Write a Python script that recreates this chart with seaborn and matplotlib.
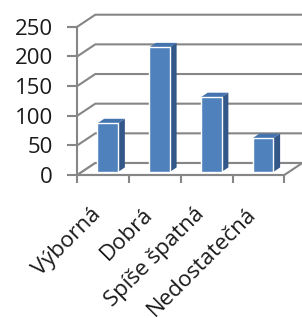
import matplotlib
matplotlib.use('Agg')
import matplotlib.pyplot as plt
import pandas as pd
import seaborn as sns
from matplotlib.lines import Line2D
from matplotlib.patches import Polygon
from matplotlib.transforms import IdentityTransform, ScaledTranslation

# data
categories = ['Výborná', 'Dobrá', 'Spíše špatná', 'Nedostatečná']
counts = [82, 210, 126, 57]
y_ticks = [0, 50, 100, 150, 200, 250]

df = pd.DataFrame({'hodnoceni': categories, 'pocet': counts})

sns.set_style('white')
plt.rcParams['font.family'] = ['Open Sans', 'DejaVu Sans']

W, H = 302, 318
fig = plt.figure(figsize=(W / 100, H / 100), dpi=100)
ax = fig.add_axes([77.3 / W, 1 - 175 / H, 207 / W, 148.3 / H])
ax.patch.set_visible(False)

grid_c = '#868686'
front_c, top_c, side_c = '#4F81BD', '#4473AE', '#34578A'
DX, DY = 18, 12          # depth of the 3d box, pixels
d_front, d_back = 0.25, 0.63   # where the bars sit inside the box

sns.barplot(data=df, x='hodnoceni', y='pocet', color=front_c, saturation=1,
            width=0.4, ax=ax, zorder=4)
ax.set_xlim(-0.5, 3.5)
ax.set_ylim(0, 250)
bars = list(ax.patches)


def px(x, y, d):
    X, Y = ax.transData.transform((x, y))
    return (X + d * DX, Y + d * DY)


# back wall + left wall gridlines
for v in y_ticks:
    pts = [px(-0.5, v, 0), px(-0.5, v, 1), px(3.5, v, 1)]
    ax.add_line(Line2D([p[0] for p in pts], [p[1] for p in pts], color=grid_c,
                       lw=1.5, transform=IdentityTransform(), clip_on=False, zorder=1))

# floor
floor = [px(-0.5, 0, 0), px(3.5, 0, 0), px(3.5, 0, 1), px(-0.5, 0, 1)]
ax.add_patch(Polygon(floor, closed=True, fc='white', ec=grid_c, lw=1.5,
                     transform=IdentityTransform(), clip_on=False, zorder=2))

# push the bars back into the box and add side + top faces
shift = ScaledTranslation(d_front * DX / 100, d_front * DY / 100, fig.dpi_scale_trans)
for p in bars:
    x0 = p.get_x()
    x1 = x0 + p.get_width()
    h = p.get_height()
    p.set_transform(ax.transData + shift)
    p.set_clip_on(False)
    side = [px(x1, 0, d_front), px(x1, 0, d_back), px(x1, h, d_back), px(x1, h, d_front)]
    top = [px(x0, h, d_front), px(x1, h, d_front), px(x1, h, d_back), px(x0, h, d_back)]
    ax.add_patch(Polygon(side, closed=True, fc=side_c, ec='none',
                         transform=IdentityTransform(), clip_on=False, zorder=3))
    ax.add_patch(Polygon(top, closed=True, fc=top_c, ec='none',
                         transform=IdentityTransform(), clip_on=False, zorder=3))

# axes
sns.despine(ax=ax, top=True, right=True)
for s in ['left', 'bottom']:
    ax.spines[s].set_color(grid_c)
    ax.spines[s].set_linewidth(1.5)
    ax.spines[s].set_zorder(5)

ax.set_yticks(y_ticks)
ax.tick_params(axis='y', length=7, width=1.5, color=grid_c, pad=10.5,
               labelsize=16, labelcolor='#1a1a1a', left=True)
ax.set_xticks(range(len(categories)))
ax.set_xticks([-0.5, 0.5, 1.5, 2.5, 3.5], minor=True)
ax.set_xticklabels(categories, rotation=45, ha='right', va='center',
                   rotation_mode='anchor')
ax.tick_params(axis='x', which='major', length=0, pad=26, labelsize=16,
               labelcolor='#1a1a1a')
ax.tick_params(axis='x', which='minor', length=5.5, width=1.5, color=grid_c,
               bottom=True)
lab_shift = ScaledTranslation(-0.05, 0, fig.dpi_scale_trans)
for t in ax.get_xticklabels():
    t.set_transform(t.get_transform() + lab_shift)
ax.set_xlabel('')
ax.set_ylabel('')

fig.savefig('out.png', dpi=100)
